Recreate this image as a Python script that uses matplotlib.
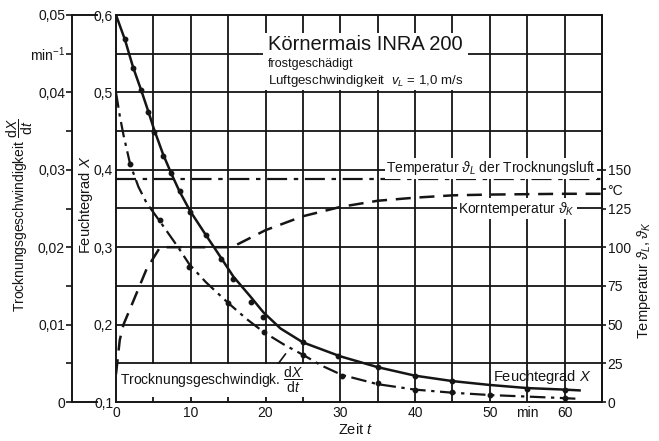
import matplotlib
matplotlib.use("Agg")
import matplotlib.pyplot as plt
from matplotlib.patches import Rectangle
import numpy as np

plt.rcParams["font.family"] = ["Liberation Sans", "DejaVu Sans"]
plt.rcParams["mathtext.fontset"] = "custom"
plt.rcParams["mathtext.rm"] = "Liberation Sans"
plt.rcParams["mathtext.it"] = "Liberation Sans:italic"
plt.rcParams["mathtext.bf"] = "Liberation Sans:bold"

INK = "#151515"

# Feuchtegrad X (solid line) and measured points
feucht_t = [0, 1.2, 2.3, 3.4, 4.3, 5.1, 6.3, 7.4, 8.5, 9.9, 12, 14, 15.7, 18,
            19.7, 22, 25, 30, 35, 40, 45, 50, 55, 60, 62]
feucht_x = [0.6, 0.568, 0.532, 0.502, 0.476, 0.452, 0.42, 0.395, 0.372, 0.347,
            0.316, 0.287, 0.262, 0.236, 0.216, 0.195, 0.177, 0.159, 0.145,
            0.134, 0.127, 0.122, 0.118, 0.116, 0.115]
feucht_pts_t = [1.2, 2.3, 3.4, 4.3, 5.1, 6.3, 7.4, 8.5, 9.9, 12, 14, 15.7, 18,
                19.7, 25, 29.7, 35, 40, 45, 55, 60]
feucht_pts_x = [0.569, 0.531, 0.503, 0.475, 0.449, 0.418, 0.396, 0.372, 0.346,
                0.316, 0.285, 0.259, 0.229, 0.21, 0.177, 0.159, 0.145, 0.134,
                0.127, 0.117, 0.116]

# Trocknungsgeschwindigkeit dX/dt (dash-dot line) in 1/min
rate_t = [0, 0.5, 1, 1.9, 3, 4.1, 5.9, 8.3, 9.8, 12, 15, 17.5, 19.8, 22.5, 25,
          27.5, 30.2, 35, 40, 45, 50, 55, 60, 62]
rate_v = [0.040, 0.037, 0.0345, 0.0307, 0.0278, 0.0257, 0.0233, 0.020, 0.0178,
          0.0155, 0.0128, 0.0107, 0.009, 0.0074, 0.0061, 0.0047, 0.0035,
          0.0023, 0.0016, 0.0012, 0.0009, 0.0007, 0.0005, 0.0004]
rate_pts_t = [1.9, 5.9, 9.8, 15, 19.8, 25, 30.2, 35, 40, 45, 50, 60]
rate_pts_v = [0.0307, 0.0235, 0.0174, 0.0128, 0.009, 0.0061, 0.0034, 0.0024,
              0.0016, 0.0013, 0.0009, 0.0005]

# Temperatur der Trocknungsluft and Korntemperatur in degC
luft_t = [0, 65]
luft_temp = [144, 144]
korn_t = [0, 0.5, 1, 2.3, 4.1, 5.9, 10, 15.5, 20, 25, 30, 35, 40, 45, 50, 60, 65]
korn_temp = [18, 40, 50, 65, 86, 100, 100, 100, 111, 120, 126, 130, 132, 133.5,
             134, 134.5, 134.5]

x_ticks = [0, 10, 20, 30, 40, 50, 55, 60]
x_labels = ["0", "10", "20", "30", "40", "50", "min", "60"]
x_ticks_moist = [0.1, 0.2, 0.3, 0.4, 0.5, 0.6]
x_labels_moist = ["0,1", "0,2", "0,3", "0,4", "0,5", "0,6"]
rate_ticks = [0, 0.01, 0.02, 0.03, 0.04, 0.045, 0.05]
rate_labels = ["0", "0,01", "0,02", "0,03", "0,04", "min$^{-1}$", "0,05"]
temp_ticks = [0, 25, 50, 75, 100, 125, 137.5, 150]
temp_labels = ["0", "25", "50", "75", "100", "125", "°C", "150"]

W, H = 659, 441
fig = plt.figure(figsize=(W / 100, H / 100), dpi=100)
L, R, T, B = 116, 602, 15, 402
ax = fig.add_axes([L / W, 1 - B / H, (R - L) / W, (B - T) / H])

ax.set_xlim(0, 65)
ax.set_ylim(0.1, 0.6)
ax.set_xticks(x_ticks)
ax.set_xticklabels(x_labels)
ax.set_yticks(x_ticks_moist)
ax.set_yticklabels(x_labels_moist)
ax.tick_params(which="both", length=0, labelsize=10, colors=INK, pad=3)
ax.tick_params(axis="y", pad=2)
for xg in np.arange(5, 65, 5):
    ax.axvline(xg, color=INK, lw=1.3, zorder=0.5)
for yg in np.arange(0.15, 0.6, 0.05):
    ax.axhline(yg, color=INK, lw=1.3, zorder=0.5)
for s in ax.spines.values():
    s.set_color(INK)
    s.set_linewidth(1.4)

# moisture curve
ax.plot(feucht_t, feucht_x, color=INK, lw=1.8, zorder=3)
ax.plot(feucht_pts_t, feucht_pts_x, "o", ms=3.2, color=INK, zorder=4)

# temperature axis (right)
ax_t = ax.twinx()
ax_t.set_ylim(0, 250)
ax_t.set_yticks(temp_ticks)
ax_t.set_yticklabels(temp_labels)
ax_t.tick_params(length=3, width=1.2, labelsize=10, colors=INK, pad=1)
for name in ["left", "top", "bottom"]:
    ax_t.spines[name].set_visible(False)
ax_t.spines["right"].set_color(INK)
ax_t.spines["right"].set_linewidth(1.4)
ax_t.plot(luft_t, luft_temp, color=INK, lw=1.6, ls=(0, (9, 3, 2, 3)))
ax_t.plot(korn_t, korn_temp, color=INK, lw=1.8, ls=(0, (6, 3.5)))

# drying rate axis (offset on the left)
ax_r = ax.twinx()
ax_r.set_ylim(0, 0.05)
ax_r.yaxis.set_ticks_position("left")
ax_r.spines["left"].set_position(("outward", 44 * 0.72))
for name in ["right", "top", "bottom"]:
    ax_r.spines[name].set_visible(False)
ax_r.spines["left"].set_visible(True)
ax_r.spines["left"].set_color(INK)
ax_r.spines["left"].set_linewidth(1.4)
ax_r.set_yticks(rate_ticks)
ax_r.set_yticklabels(rate_labels)
ax_r.set_yticks([0.005, 0.015, 0.025, 0.035], minor=True)
ax_r.tick_params(which="both", length=4, width=1.2, labelsize=10, colors=INK, pad=1)
off = -44 / (R - L)
for yy in [0, 1]:
    ax_r.plot([off, -19 / (R - L)], [yy, yy], color=INK, lw=1.4,
              transform=ax_r.transAxes, clip_on=False)
ax_r.plot(rate_t, rate_v, color=INK, lw=1.6, ls=(0, (7, 2.5, 1.5, 2.5)))
ax_r.plot(rate_pts_t, rate_pts_v, "o", ms=3.2, color=INK)

# title block
ax.add_patch(Rectangle(((263 - L) / (R - L), 1 - (90 - T) / (B - T)),
                       (468 - 263) / (R - L), (90 - 33) / (B - T),
                       transform=ax.transAxes, facecolor="white",
                       edgecolor="none", zorder=1))
tx = (268 - L) / (R - L)
ax.text(tx, 1 - (45 - T) / (B - T), "Körnermais INRA 200", transform=ax.transAxes,
        fontsize=14.5, va="center", ha="left", color=INK, zorder=5)
ax.text(tx, 1 - (64 - T) / (B - T), "frostgeschädigt", transform=ax.transAxes,
        fontsize=9, va="center", ha="left", color=INK, zorder=5)
ax.text(tx, 1 - (81 - T) / (B - T),
        r"Luftgeschwindigkeit  $v_L$ = 1,0 m/s", transform=ax.transAxes,
        fontsize=9.5, va="center", ha="left", color=INK, zorder=5)

box = dict(facecolor="white", edgecolor="none", pad=1.0)
ax_t.text(64.2, 151, r"Temperatur $\vartheta_L$ der Trocknungsluft", fontsize=10,
          ha="right", va="center", color=INK, bbox=box, zorder=5)
ax_t.text(45.8, 125, r"Korntemperatur $\vartheta_K$", fontsize=10,
          ha="left", va="center", color=INK, bbox=box, zorder=5)
ax.text(50.4, 0.132, r"Feuchtegrad $X$", fontsize=10.5, ha="left", va="center",
        color=INK, zorder=5)
ax.text(0.5, 0.128, r"Trocknungsgeschwindigk. $\dfrac{\mathrm{d}X}{\mathrm{d}t}$",
        fontsize=10, ha="left", va="center", color=INK, bbox=box, zorder=5)
ax.annotate("", xy=(22.9, 0.165), xytext=(20.8, 0.138),
            arrowprops=dict(arrowstyle="-", color=INK, lw=1.2))

# axis labels
fig.text(20 / W, 1 - 215 / H,
         r"Trocknungsgeschwindigkeit $\dfrac{\mathrm{d}X}{\mathrm{d}t}$",
         rotation=90, ha="center", va="center", fontsize=10, color=INK)
fig.text(86 / W, 1 - 205 / H, r"Feuchtegrad $X$", rotation=90,
         ha="center", va="center", fontsize=10.5, color=INK)
fig.text(644 / W, 1 - 280 / H, r"Temperatur $\vartheta_L, \vartheta_K$",
         rotation=90, ha="center", va="center", fontsize=10.5, color=INK)
fig.text(356 / W, 1 - 430 / H, r"Zeit $t$", ha="center", va="center",
         fontsize=10.5, color=INK)

fig.savefig("out.png", dpi=100, facecolor="white")
